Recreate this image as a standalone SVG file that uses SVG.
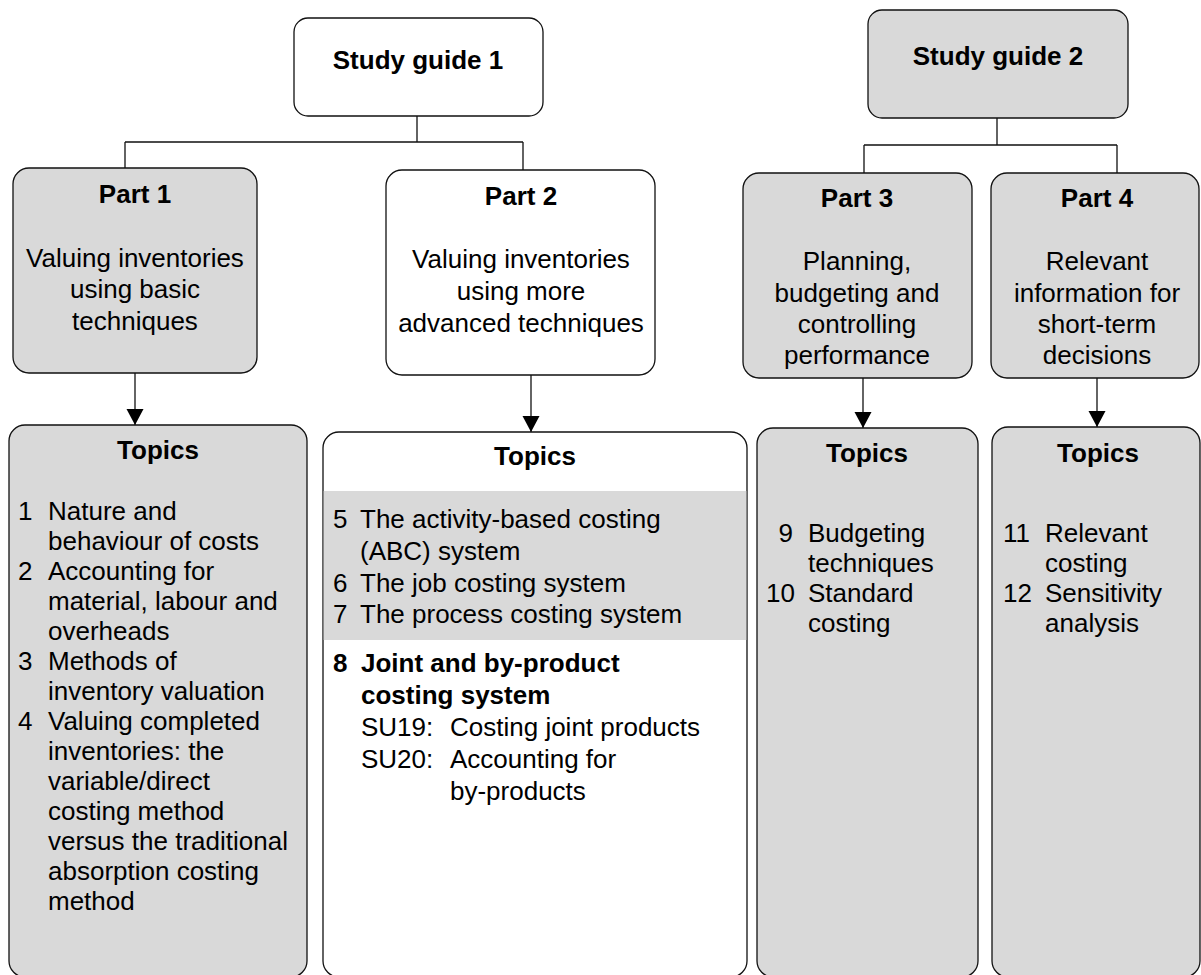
<svg xmlns="http://www.w3.org/2000/svg" width="1201" height="975" viewBox="0 0 1201 975">
<style>
.box{stroke:#111;stroke-width:1.3}
.g{fill:#d9d9d9}
.w{fill:#ffffff}
text{font-family:"Liberation Sans",Arial,sans-serif;font-size:26px;fill:#000}
.b{font-weight:bold}
.c{text-anchor:middle}
.r{text-anchor:end}
.ln{stroke:#111;stroke-width:1.3;fill:none}
</style>
<defs>
<marker id="ah" markerUnits="userSpaceOnUse" markerWidth="18" markerHeight="18" refX="16" refY="8.5" orient="auto">
<path d="M0,0 L16,8.5 L0,17 z" fill="#000"/>
</marker>
</defs>
<rect width="1201" height="975" fill="#fff"/>
<g id="connectors">
<path class="ln" d="M417,116 V142 M125,142 H523 M125,142 V168 M523,142 V170"/>
<path class="ln" d="M997,118 V145 M864,145 H1117 M864,145 V173 M1117,145 V173"/>
<line class="ln" x1="135" y1="373" x2="135" y2="425" marker-end="url(#ah)"/>
<line class="ln" x1="531" y1="375" x2="531" y2="432" marker-end="url(#ah)"/>
<line class="ln" x1="863" y1="378" x2="863" y2="428" marker-end="url(#ah)"/>
<line class="ln" x1="1097" y1="378" x2="1097" y2="427" marker-end="url(#ah)"/>
</g>
<g id="sg1">
<rect class="box w" x="294" y="18" width="249" height="98" rx="14"/>
<text class="b c" x="418" y="69">Study guide 1</text>
</g>
<g id="sg2">
<rect class="box g" x="868" y="10" width="260" height="108" rx="14"/>
<text class="b c" x="998" y="65">Study guide 2</text>
</g>
<g id="part1">
<rect class="box g" x="13" y="168" width="244" height="205" rx="16"/>
<text class="b c" x="135" y="203">Part 1</text>
<text class="c" x="135" y="267">Valuing inventories</text>
<text class="c" x="135" y="298">using basic</text>
<text class="c" x="135" y="330">techniques</text>
</g>
<g id="part2">
<rect class="box w" x="386" y="170" width="269" height="205" rx="16"/>
<text class="b c" x="521" y="205">Part 2</text>
<text class="c" x="521" y="268">Valuing inventories</text>
<text class="c" x="521" y="300">using more</text>
<text class="c" x="521" y="332">advanced techniques</text>
</g>
<g id="part3">
<rect class="box g" x="743" y="173" width="229" height="205" rx="16"/>
<text class="b c" x="857" y="207">Part 3</text>
<text class="c" x="857" y="270">Planning,</text>
<text class="c" x="857" y="302">budgeting and</text>
<text class="c" x="857" y="333">controlling</text>
<text class="c" x="857" y="364">performance</text>
</g>
<g id="part4">
<rect class="box g" x="991" y="173" width="208" height="205" rx="16"/>
<text class="b c" x="1097" y="207">Part 4</text>
<text class="c" x="1097" y="270">Relevant</text>
<text class="c" x="1097" y="302">information for</text>
<text class="c" x="1097" y="333">short-term</text>
<text class="c" x="1097" y="364">decisions</text>
</g>
<g id="topics1">
<rect class="box g" x="9" y="425" width="298" height="552" rx="16"/>
<text class="b c" x="158" y="459">Topics</text>
<text x="18" y="520">1</text><text x="48" y="520">Nature and</text>
<text x="48" y="550">behaviour of costs</text>
<text x="18" y="580">2</text><text x="48" y="580">Accounting for</text>
<text x="48" y="610">material, labour and</text>
<text x="48" y="640">overheads</text>
<text x="18" y="670">3</text><text x="48" y="670">Methods of</text>
<text x="48" y="700">inventory valuation</text>
<text x="18" y="730">4</text><text x="48" y="730">Valuing completed</text>
<text x="48" y="760">inventories: the</text>
<text x="48" y="790">variable/direct</text>
<text x="48" y="820">costing method</text>
<text x="48" y="850">versus the traditional</text>
<text x="48" y="880">absorption costing</text>
<text x="48" y="910">method</text>
</g>
<g id="topics2">
<rect class="box w" x="323" y="432" width="424" height="545" rx="16"/>
<rect x="323.7" y="491" width="422.6" height="149" fill="#d9d9d9"/>
<text class="b c" x="535" y="465">Topics</text>
<text x="333" y="528">5</text><text x="360" y="528">The activity-based costing</text>
<text x="360" y="560">(ABC) system</text>
<text x="333" y="592">6</text><text x="360" y="592">The job costing system</text>
<text x="333" y="623">7</text><text x="360" y="623">The process costing system</text>
<text class="b" x="333" y="672">8</text><text class="b" x="361" y="672">Joint and by-product</text>
<text class="b" x="361" y="704">costing system</text>
<text x="361" y="736">SU19:</text><text x="450" y="736">Costing joint products</text>
<text x="361" y="768">SU20:</text><text x="450" y="768">Accounting for</text>
<text x="450" y="800">by-products</text>
</g>
<g id="topics3">
<rect class="box g" x="757" y="428" width="221" height="549" rx="16"/>
<text class="b c" x="867" y="462">Topics</text>
<text class="r" x="793" y="542">9</text><text x="808" y="542">Budgeting</text>
<text x="808" y="572">techniques</text>
<text class="r" x="795" y="602">10</text><text x="808" y="602">Standard</text>
<text x="808" y="632">costing</text>
</g>
<g id="topics4">
<rect class="box g" x="992" y="427" width="208" height="550" rx="16"/>
<text class="b c" x="1098" y="462">Topics</text>
<text x="1003" y="542">11</text><text x="1045" y="542">Relevant</text>
<text x="1045" y="572">costing</text>
<text x="1003" y="602">12</text><text x="1045" y="602">Sensitivity</text>
<text x="1045" y="632">analysis</text>
</g>
</svg>
